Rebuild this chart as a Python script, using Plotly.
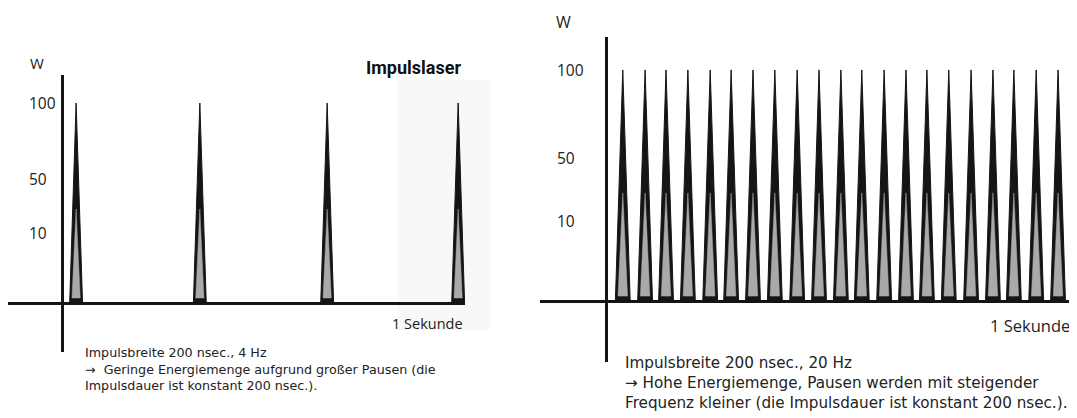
import plotly.graph_objects as go

# ---------------- data ----------------
# pulse positions (fraction of 1 second, axis origin = 0)
pulses_4hz = [0.035, 0.342, 0.658, 0.983]
pulses_20hz = [0.034, 0.082, 0.127, 0.174, 0.222, 0.267, 0.314, 0.361, 0.409,
               0.456, 0.503, 0.548, 0.596, 0.643, 0.688, 0.735, 0.783, 0.830,
               0.875, 0.923, 0.970]
peak_power = 100          # W
inner_peak = 47           # grey core height
pulse_halfwidth = 0.016
core_ratio = 0.64
core_base = 2.5

tick_levels = [35, 62, 100]
tick_labels = ["10", "50", "100"]

left_lines = ["Impulsbreite 200 nsec., 4 Hz",
              "\u2192  Geringe Energiemenge aufgrund gro\u00dfer Pausen (die",
              "Impulsdauer ist konstant 200 nsec.)."]
right_lines = ["Impulsbreite 200 nsec., 20 Hz",
               "\u2192 Hohe Energiemenge, Pausen werden mit steigender",
               "Frequenz kleiner (die Impulsdauer ist konstant 200 nsec.)."]

OFF = 8                     # default page body margin
W, H = 1077 - OFF, 418 - OFF
FONT = "Open Sans"
CAP_FONT = "DejaVu Sans"
BLACK = "#151515"
GREY = "#a9a9a9"
TXT = "#222"


def px(x):
    return (x - OFF) / W


def py(y):
    return 1 - (y - OFF) / H


def spikes(centers, hw, top, base=0.0):
    xs, ys = [], []
    for c in centers:
        xs += [c - hw, c, c + hw, c - hw, None]
        ys += [base, top, base, base, None]
    return xs, ys


fig = go.Figure()

panels = [
    dict(xa="x", ya="y", pulses=pulses_4hz),
    dict(xa="x2", ya="y2", pulses=pulses_20hz),
]
for p in panels:
    ox, oy = spikes(p["pulses"], pulse_halfwidth, peak_power)
    fig.add_trace(go.Scatter(x=ox, y=oy, mode="lines", fill="toself",
                             fillcolor=BLACK, line=dict(color=BLACK, width=1),
                             xaxis=p["xa"], yaxis=p["ya"], hoverinfo="skip"))
    ix, iy = spikes(p["pulses"], pulse_halfwidth * core_ratio, inner_peak, core_base)
    fig.add_trace(go.Scatter(x=ix, y=iy, mode="lines", fill="toself",
                             fillcolor=GREY, line=dict(color=GREY, width=0.5),
                             xaxis=p["xa"], yaxis=p["ya"], hoverinfo="skip"))

axis_common = dict(showgrid=False, showticklabels=False, ticks="",
                   zeroline=True, zerolinecolor=BLACK, zerolinewidth=3,
                   showline=False, fixedrange=True)

fig.update_layout(
    xaxis=dict(domain=[px(8), px(465)], range=[-0.134, 1.0], anchor="y", **axis_common),
    yaxis=dict(domain=[py(352), py(75)], range=[-24.5, 114], anchor="x", **axis_common),
    xaxis2=dict(domain=[px(540), px(1072)], range=[-0.144, 1.0], anchor="y2", **axis_common),
    yaxis2=dict(domain=[py(362), py(37)], range=[-25.9, 114.2], anchor="x2", **axis_common),
)

ann = []
for yref, xp in (("y", 27), ("y2", 555)):
    for v, t in zip(tick_levels, tick_labels):
        ann.append(dict(x=px(xp), xref="paper", y=v, yref=yref, text=t,
                        xanchor="left", yanchor="middle", showarrow=False,
                        font=dict(family=FONT, size=15.5, color=TXT)))
ann.append(dict(x=px(28), y=py(63), xref="paper", yref="paper", text="W",
                xanchor="left", yanchor="middle", showarrow=False,
                font=dict(family=FONT, size=15, color=TXT)))
ann.append(dict(x=px(554), y=py(22), xref="paper", yref="paper", text="W",
                xanchor="left", yanchor="middle", showarrow=False,
                font=dict(family=FONT, size=16, color=TXT)))
ann.append(dict(x=px(463), y=py(67), xref="paper", yref="paper", text="<b>Impulslaser</b>",
                xanchor="right", yanchor="middle", showarrow=False,
                font=dict(family="Roboto", size=18, color="#111")))
ann.append(dict(x=px(465), y=py(323), xref="paper", yref="paper", text="1 Sekunde",
                xanchor="right", yanchor="middle", showarrow=False,
                font=dict(family=FONT, size=14.5, color=TXT)))
ann.append(dict(x=px(1072), y=py(325), xref="paper", yref="paper", text="1 Sekunde",
                xanchor="right", yanchor="middle", showarrow=False,
                font=dict(family=FONT, size=16.5, color=TXT)))
# captions (one text block each, centred on the middle line)
ann.append(dict(x=px(83), y=py(368.5), xref="paper", yref="paper",
                text="<br>".join(left_lines), align="left",
                xanchor="left", yanchor="middle", showarrow=False,
                font=dict(family=CAP_FONT, size=12.7, color=TXT)))
ann.append(dict(x=px(623), y=py(383), xref="paper", yref="paper",
                text="<br>".join(right_lines), align="left",
                xanchor="left", yanchor="middle", showarrow=False,
                font=dict(family=CAP_FONT, size=15.2, color=TXT)))

fig.update_layout(
    width=W, height=H, margin=dict(l=0, r=0, t=0, b=0),
    paper_bgcolor="white", plot_bgcolor="rgba(0,0,0,0)",
    showlegend=False, annotations=ann,
    shapes=[dict(type="rect", xref="paper", yref="paper", layer="below",
                 x0=px(398), x1=px(490), y0=py(330), y1=py(80),
                 fillcolor="#f8f8f8", line=dict(width=0))],
)

fig.write_html("out.html")
